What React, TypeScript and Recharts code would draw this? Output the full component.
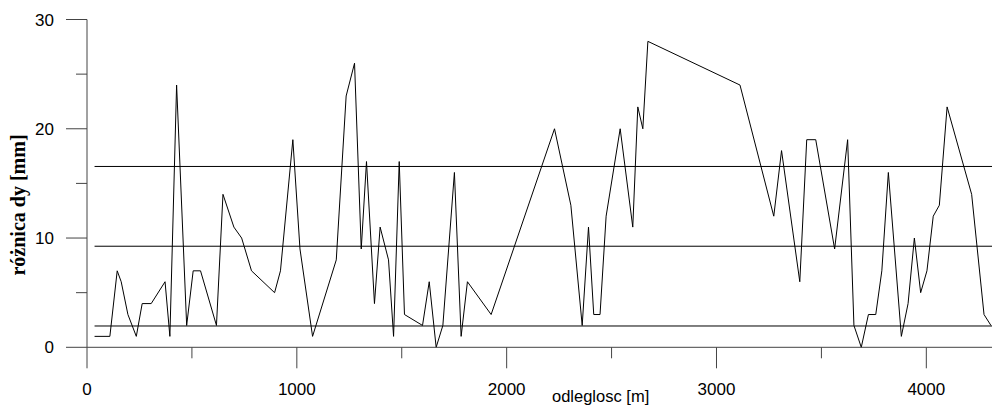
import React from "react";
import { LineChart, Line, XAxis, YAxis, ReferenceLine, Label } from "recharts";

// distances along the profile [m]
const distances = [
  36, 109, 144, 163, 195, 235, 263, 306, 372, 395, 427, 475, 506, 541, 617, 648, 700, 737, 784, 894,
  922, 981, 1015, 1075, 1188, 1235, 1275, 1307, 1332, 1370, 1397, 1437, 1461, 1488, 1513, 1599, 1631,
  1664, 1696, 1751, 1783, 1813, 1926, 2228, 2306, 2360, 2390, 2415, 2445, 2474, 2541, 2601, 2625, 2649,
  2673, 3112, 3273, 3310, 3397, 3430, 3473, 3563, 3625, 3655, 3690, 3724, 3759, 3788, 3819, 3881, 3913,
  3943, 3973, 4003, 4033, 4062, 4099, 4216, 4275, 4308,
];

// różnica dy [mm]
const diffs = [
  1, 1, 7, 6, 3, 1, 4, 4, 6, 1, 24, 2, 7, 7, 2, 14, 11, 10, 7, 5,
  7, 19, 9, 1, 8, 23, 26, 9, 17, 4, 11, 8, 1, 17, 3, 2, 6,
  0, 2, 16, 1, 6, 3, 20, 13, 2, 11, 3, 3, 12, 20, 11, 22, 20,
  28, 24, 12, 18, 6, 19, 19, 9, 19, 2, 0, 3, 3, 7, 16, 1, 4,
  10, 5, 7, 12, 13, 22, 14, 3, 2,
];

// lower limit, mean, upper limit
const levels = [1.95, 9.25, 16.55];

const xTicks = [0, 500, 1000, 1500, 2000, 2500, 3000, 3500, 4000];
const yTicks = [0, 5, 10, 15, 20, 25, 30];

const data = distances.map((x, i) => ({ x, dy: diffs[i] }));

const SANS = "'Liberation Sans', Arial, sans-serif";
const TICK = "#444";

function XTick(props: any) {
  const { x, y, payload } = props;
  const major = payload.value % 1000 === 0;
  return (
    <g>
      <line x1={x} y1={y} x2={x} y2={y + (major ? 21 : 11)} stroke={TICK} />
      {major && (
        <text x={x} y={y + 48} textAnchor="middle" fontFamily={SANS} fontSize={17} fill="#000">
          {payload.value}
        </text>
      )}
    </g>
  );
}

function YTick(props: any) {
  const { x, y, payload } = props;
  const major = payload.value % 10 === 0;
  return (
    <g>
      <line x1={x - (major ? 21 : 11)} y1={y} x2={x} y2={y} stroke={TICK} />
      {major && (
        <text x={x - 33} y={y + 6} textAnchor="end" fontFamily={SANS} fontSize={17} fill="#000">
          {payload.value}
        </text>
      )}
    </g>
  );
}

export default function App() {
  const x0 = distances[0];
  const x1 = distances[distances.length - 1];
  return (
    <div style={{ position: "absolute", left: 0, top: 0, width: 992, height: 407, background: "#fff" }}>
      <LineChart width={992} height={407} data={data} margin={{ top: 19.5, right: 0, left: 0, bottom: 0 }}>
        <XAxis
          dataKey="x"
          type="number"
          domain={[0, 4313]}
          ticks={xTicks}
          interval={0}
          tickSize={0}
          tickMargin={0}
          tickLine={false}
          height={59.7}
          axisLine={{ stroke: TICK }}
          tick={<XTick />}
          allowDataOverflow
        >
          <Label
            content={() => (
              <text x={552} y={402} fontFamily={SANS} fontSize={16.5} fill="#000">
                odleglosc [m]
              </text>
            )}
          />
        </XAxis>
        <YAxis
          type="number"
          domain={[0, 30]}
          ticks={yTicks}
          interval={0}
          tickSize={0}
          tickMargin={0}
          tickLine={false}
          width={87}
          axisLine={{ stroke: TICK }}
          tick={<YTick />}
        >
          <Label
            content={() => (
              <text
                x={25}
                y={205}
                transform="rotate(-90 25 205)"
                textAnchor="middle"
                fontFamily="'Liberation Serif', 'Times New Roman', serif"
                fontWeight="bold"
                fontSize={20}
                fill="#000"
              >
                różnica dy [mm]
              </text>
            )}
          />
        </YAxis>
        {levels.map((v) => (
          <ReferenceLine
            key={v}
            segment={[
              { x: x0, y: v },
              { x: x1 + 5, y: v },
            ]}
            stroke="#000"
            strokeWidth={1}
          />
        ))}
        <Line
          type="linear"
          dataKey="dy"
          stroke="#000"
          strokeWidth={1}
          dot={false}
          isAnimationActive={false}
        />
      </LineChart>
    </div>
  );
}
